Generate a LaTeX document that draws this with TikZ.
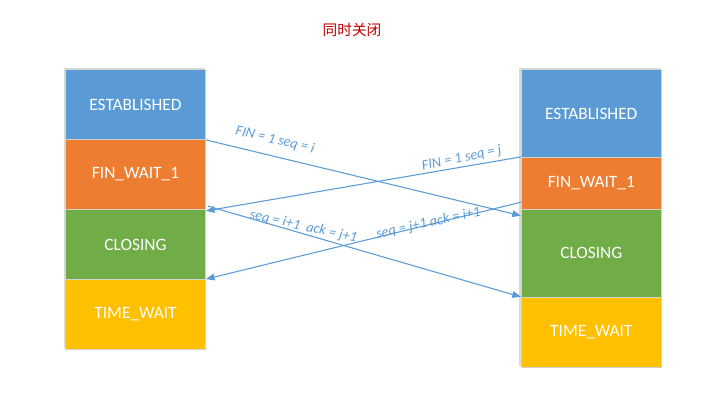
\documentclass[tikz,border=0pt]{standalone}
\usepackage{fontspec}
\setmainfont{Carlito}
\newfontfamily\cjkfont{Noto Sans CJK SC}
\usepackage{xcolor}
\usetikzlibrary{arrows.meta,backgrounds}

\definecolor{estBlue}{RGB}{91,155,213}
\definecolor{finOrange}{RGB}{237,125,49}
\definecolor{closeGreen}{RGB}{112,173,71}
\definecolor{waitGold}{RGB}{255,192,0}
\definecolor{titleRed}{RGB}{192,0,0}

\tikzset{
  state/.style={draw=black!18, line width=0.6pt, text=white, minimum width=105pt, inner sep=0pt, font=\fontsize{13}{15}\selectfont},
  msg/.style={draw=estBlue, line width=0.8pt, -{Triangle[length=6.5pt,width=5pt]}},
  msglabel/.style={text=estBlue, inner sep=0pt, font=\fontsize{10.8}{12}\selectfont\itshape}
}

\begin{document}
\begin{tikzpicture}[x=0.75pt,y=0.75pt,yscale=-1,xscale=1]
%set diagram left start at 0, and has height of 408
\path[use as bounding box] (0,0) rectangle (722,408);

% Text Node
\node[text=titleRed, font=\cjkfont\fontsize{11}{13}\selectfont] (title) at (352,30) {同时关闭};

%Shape: Rectangle -- left column
\node[state, fill=estBlue, minimum height=52.5pt] (lEst) at (135.5,104.5) {ESTABLISHED};
\node[state, fill=finOrange, minimum height=52.5pt] (lFin) at (135.5,174.5) {FIN\_WAIT\_1};
\node[state, fill=closeGreen, minimum height=52.5pt] (lCl) at (135.5,244.5) {CLOSING};
\node[state, fill=waitGold, minimum height=52.5pt] (lTime) at (135.5,314.5) {TIME\_WAIT};

%Shape: Rectangle -- right column
\node[state, fill=estBlue, minimum height=65.7pt] (rEst) at (591.3,113.5) {ESTABLISHED};
\node[state, fill=finOrange, minimum height=39pt] (rFin) at (591.3,183.3) {FIN\_WAIT\_1};
\node[state, fill=closeGreen, minimum height=66pt] (rCl) at (591.3,253.3) {CLOSING};
\node[state, fill=waitGold, minimum height=52.5pt] (rTime) at (591.3,332.3) {TIME\_WAIT};

%shadows
\begin{scope}[on background layer]
\fill[black!15] ([xshift=-1.2pt,yshift=-1.2pt]lEst.north west) rectangle ([xshift=-1.2pt,yshift=-1.2pt]lTime.south east);
\fill[black!15] ([xshift=-1.2pt,yshift=-1.2pt]rEst.north west) rectangle ([xshift=-1.2pt,yshift=-1.2pt]rTime.south east);
\end{scope}

%Straight Lines
\draw[msg] (lEst.south east) -- ([yshift=4.5pt]rFin.south west);
\draw[msg] (rFin.north west) -- ([yshift=0.75pt]lFin.south east);
\draw[msg] ([xshift=1.5pt,yshift=-2.25pt]lCl.north east) -- (rTime.north west);
\draw[msg] ([yshift=-5pt]rCl.north west) -- (lTime.north east);

% Text Node
\node[msglabel, rotate=-13] (finI) at (275,140) {FIN = 1 seq = i};
% Text Node
\node[msglabel, rotate=12] (finJ) at (461.7,158.3) {FIN = 1 seq = j};
% Text Node
\node[msglabel, rotate=-12.4] (ackI) at (303.3,226.7) {seq = i+1\ \ ack = j+1};
% Text Node
\node[msglabel, rotate=12.3] (ackJ) at (428.3,223.3) {seq = j+1 ack = i+1};
\end{tikzpicture}
\end{document}
